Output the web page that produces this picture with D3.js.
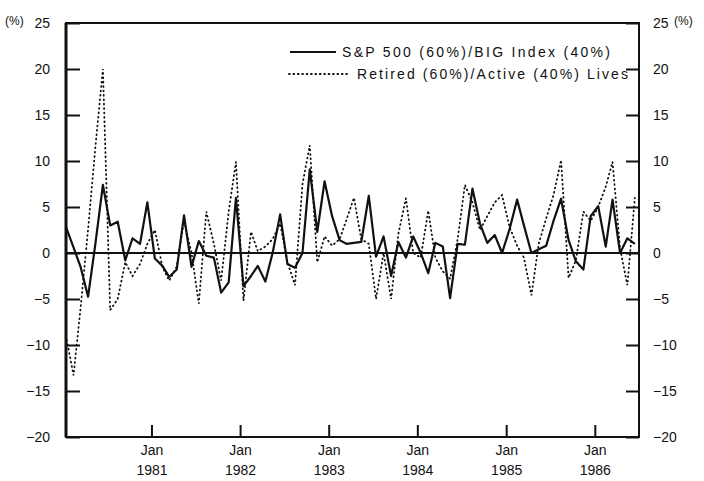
<!DOCTYPE html>
<html><head><meta charset="utf-8">
<script src="https://cdn.jsdelivr.net/npm/d3@7"></script>
<style>
html,body{margin:0;padding:0;background:#fff;}
svg{display:block;font-family:"Liberation Sans",Arial,Helvetica,sans-serif;}
</style></head>
<body><svg id="c" width="704" height="481"></svg>
<script>
// ---- data ----
const firstMonth = "1980-01";   // first monthly observation
const lastMonth  = "1986-06";   // last monthly observation
const seriesNames = ["S&P 500 (60%)/BIG Index (40%)", "Retired (60%)/Active (40%) Lives"];
const assetReturns = [
  2.8, 0.6, -1.5, -4.75, 1.0, 7.4, 3.0, 3.4, -0.8, 1.6, 1.0, 5.5,
  -0.6, -1.4, -2.6, -1.8, 4.1, -1.5, 1.3, -0.3, -0.5, -4.3, -3.2, 6.0,
  -3.6, -2.5, -1.4, -3.1, 0.0, 4.2, -1.2, -1.6, 0.0, 9.1, 2.3, 7.8,
  4.0, 1.4, 1.0, 1.1, 1.2, 6.2, -0.4, 1.8, -2.5, 1.2, -0.5, 1.8,
  0.0, -2.2, 1.1, 0.7, -4.9, 1.0, 0.9, 7.0, 3.2, 1.1, 1.95, 0.0,
  2.6, 5.8, 3.0, 0.0, 0.4, 0.8, 3.5, 5.9, 1.4, -0.9, -1.8, 4.0,
  5.1, 0.7, 5.8, 0.0, 1.6, 1.0
];
const liabilityReturns = [
  -9.0, -13.3, -6.0, 2.6, 11.5, 20.0, -6.2, -5.0, -1.0, -2.5, -1.2, 1.0,
  2.5, -1.5, -3.0, -1.5, 3.5, 0.0, -5.5, 4.5, 1.0, -3.0, 4.5, 9.9,
  -5.2, 2.3, 0.2, 0.7, 1.5, 3.2, -1.0, -3.5, 7.5, 11.7, -1.0, 1.8,
  0.8, 1.5, 3.6, 6.0, 1.5, 1.0, -5.0, 0.0, -5.0, 2.1, 5.95, 0.0,
  -0.5, 4.6, -0.5, -2.0, -2.8, 1.5, 7.4, 5.5, 2.5, 4.0, 5.5, 6.3,
  2.8, 0.8, -0.5, -4.6, 1.0, 3.8, 6.3, 10.1, -2.7, -0.8, 4.5, 3.5,
  5.0, 7.2, 9.9, 0.5, -3.5, 6.0
];
const yTicks = [-20, -15, -10, -5, 0, 5, 10, 15, 20, 25];
const xTickMonth = "Jan";
const xTickYears = ["1981", "1982", "1983", "1984", "1985", "1986"];
const unitLabel = "(%)";

// ---- layout ----
const svg = d3.select("#c");
const L = 66, R = 639, T = 23, B = 437;
const parseM = d3.timeParse("%Y-%m");
const months = d3.timeMonth.range(parseM(firstMonth), d3.timeMonth.offset(parseM(lastMonth), 1));
const mid = m => d3.timeDay.offset(m, 14);
const x = d3.scaleTime()
  .domain([mid(months[0]), d3.timeDay.offset(mid(months[months.length - 1]), 17)])
  .range([L, R]);
const y = d3.scaleLinear().domain([-20, 25]).range([B, T]);

const ink = "#111";

// axes
const gl = svg.append("g").attr("transform", `translate(${L},0)`)
  .call(d3.axisLeft(y).tickValues(yTicks).tickSize(-14).tickPadding(16).tickFormat(d3.format("d")));
const gr = svg.append("g").attr("transform", `translate(${R},0)`)
  .call(d3.axisRight(y).tickValues(yTicks).tickSize(-13).tickPadding(14).tickFormat(d3.format("d")));
const janDates = xTickYears.map(yr => parseM(yr + "-01"));
const gb = svg.append("g").attr("transform", `translate(0,${B})`)
  .call(d3.axisBottom(x).tickValues(janDates).tickSize(-12).tickFormat(""));
[gl, gr, gb].forEach(g => {
  g.select(".domain").remove();
  g.selectAll(".tick line").attr("stroke", ink).attr("stroke-width", 2);
  g.selectAll(".tick text").attr("fill", ink).attr("font-size", 14)
    .attr("font-family", "'Liberation Sans', Arial, sans-serif");
});
gb.selectAll(".tick").each(function(d, i) {
  const t = d3.select(this);
  t.append("text").attr("y", 18).attr("text-anchor", "middle").attr("fill", ink)
    .attr("font-size", 14).text(xTickMonth);
  t.append("text").attr("y", 38).attr("text-anchor", "middle").attr("fill", ink)
    .attr("font-size", 14).text(xTickYears[i]);
});

// unit labels
svg.append("text").attr("x", 5).attr("y", 25).attr("font-size", 12).attr("fill", ink).text(unitLabel);
svg.append("text").attr("x", 674).attr("y", 25).attr("font-size", 12).attr("fill", ink).text(unitLabel);

// frame
svg.append("rect").attr("x", L).attr("y", T).attr("width", R - L).attr("height", B - T)
  .attr("fill", "none").attr("stroke", ink).attr("stroke-width", 2);
svg.append("line").attr("x1", L).attr("x2", L).attr("y1", T).attr("y2", B)
  .attr("stroke", ink).attr("stroke-width", 3);

// zero line
svg.append("line").attr("x1", L).attr("x2", R).attr("y1", y(0)).attr("y2", y(0))
  .attr("stroke", ink).attr("stroke-width", 2);

// series
const line = d3.line().x((d, i) => x(mid(months[i]))).y(d => y(d));
svg.append("path").datum(liabilityReturns).attr("d", line)
  .attr("fill", "none").attr("stroke", ink).attr("stroke-width", 1.8)
  .attr("stroke-dasharray", "0.8,3.6").attr("stroke-linecap", "round");
svg.append("path").datum(assetReturns).attr("d", line)
  .attr("fill", "none").attr("stroke", ink).attr("stroke-width", 2.2)
  .attr("stroke-linejoin", "round");

// legend
const lg = svg.append("g");
lg.append("line").attr("x1", 290).attr("x2", 336).attr("y1", 52).attr("y2", 52)
  .attr("stroke", ink).attr("stroke-width", 2.2);
lg.append("text").attr("x", 342).attr("y", 57).attr("font-size", 14).attr("fill", ink)
  .attr("textLength", 268).attr("lengthAdjust", "spacing").text(seriesNames[0]);
lg.append("line").attr("x1", 289).attr("x2", 348).attr("y1", 74).attr("y2", 74)
  .attr("stroke", ink).attr("stroke-width", 1.8).attr("stroke-dasharray", "0.8,3.6").attr("stroke-linecap", "round");
lg.append("text").attr("x", 357).attr("y", 79).attr("font-size", 14).attr("fill", ink)
  .attr("textLength", 271).attr("lengthAdjust", "spacing").text(seriesNames[1]);
</script></body></html>
